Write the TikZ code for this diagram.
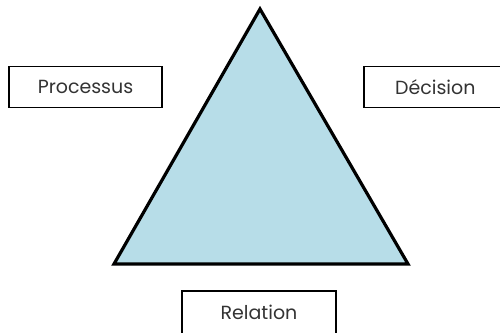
\documentclass[tikz,border=0pt]{standalone}
\usepackage{fontspec}
\setmainfont{Poppins}
\definecolor{tri}{HTML}{B7DDE8}
\begin{document}
\begin{tikzpicture}[x=1pt,y=-1pt,
  label box/.style={draw=black,line width=1.6pt,fill=white,font=\fontsize{19}{21}\selectfont,text=black!80,inner sep=0pt}]
\useasboundingbox (0,0) rectangle (500,332);
\filldraw[fill=tri,draw=black,line width=3.2pt,line join=miter] (260,9) -- (408,264) -- (114,264) -- cycle;
\node[label box,minimum width=153pt,minimum height=41pt] (proc) at (85.5,87) {Processus};
\node[label box,minimum width=140pt,minimum height=41pt,anchor=west] (dec) at (363,87) {\hspace*{3pt}Décision};
\node[label box,minimum width=154pt,minimum height=43pt,anchor=north] (rel) at (259,290) {Relation};
\end{tikzpicture}
\end{document}
